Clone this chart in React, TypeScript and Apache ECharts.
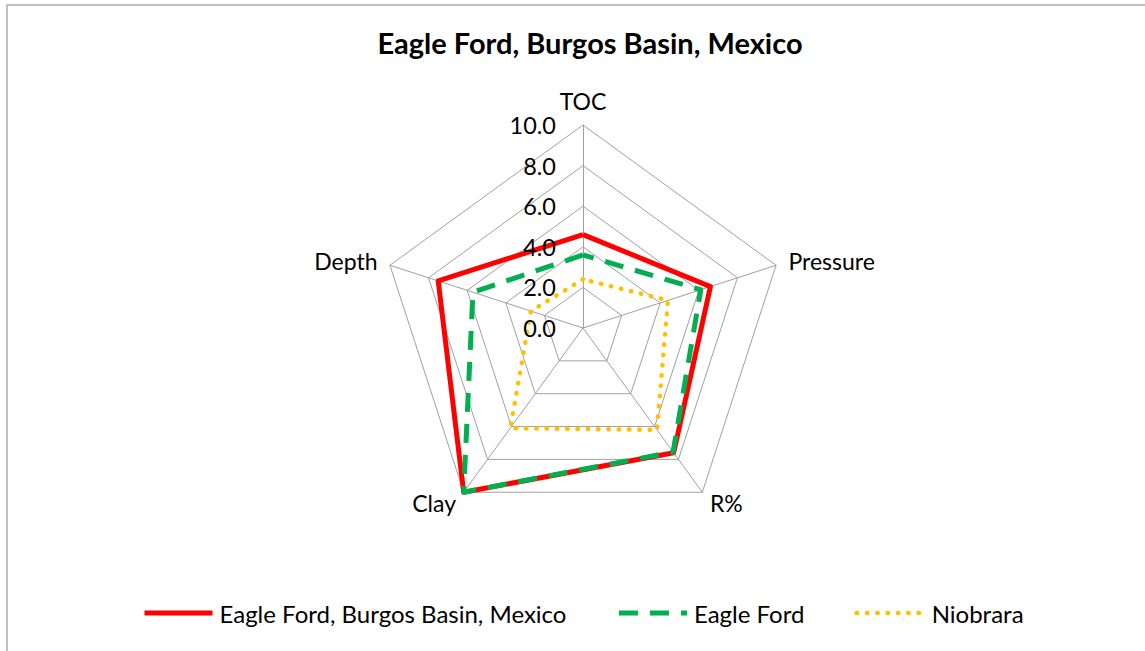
import React, { useEffect, useRef } from "react";
import * as echarts from "echarts";

// Display order (ECharts radar places indicators counter-clockwise from the top)
const indicatorNames = ["TOC", "Depth", "Clay", "R%", "Pressure"];
const burgosValues = [4.6, 7.5, 10.0, 7.6, 6.6];
const eagleFordValues = [3.6, 5.7, 10.0, 7.55, 6.1];
const niobraraValues = [2.4, 2.7, 6.1, 6.2, 4.4];

const seriesNames = ["Eagle Ford, Burgos Basin, Mexico", "Eagle Ford", "Niobrara"];
const axisMin = 0;
const axisMax = 10;
const axisInterval = 2;

const FONT = "Lato";

export default function App() {
  const ref = useRef<HTMLDivElement>(null);

  useEffect(() => {
    if (!ref.current) return;
    const chart = echarts.init(ref.current, null, { renderer: "svg" });

    const styles = [
      { color: "#ff0000", width: 5, type: "solid" as any, cap: "butt" },
      { color: "#00b050", width: 5, type: [19, 12] as any, cap: "butt" },
      { color: "#ffc000", width: 4.5, type: [0.5, 9.8] as any, cap: "round" },
    ];
    const values = [burgosValues, eagleFordValues, niobraraValues];

    const legendSeries = seriesNames.map((name, i) => ({
      type: "line",
      name,
      coordinateSystem: "polar",
      data: [],
      symbol: "none",
      color: styles[i].color,
      lineStyle: { ...styles[i] },
    }));

    const radarSeries = seriesNames.map((name, i) => ({
      type: "radar",
      name,
      symbol: "none",
      color: styles[i].color,
      lineStyle: { ...styles[i] },
      z: 2 + i,
      data: [{ name, value: values[i] }],
    }));

    chart.setOption({
      animation: false,
      backgroundColor: "#ffffff",
      title: {
        text: "Eagle Ford, Burgos Basin, Mexico",
        left: 585,
        textAlign: "center",
        top: 23,
        textStyle: { fontFamily: FONT, fontSize: 29, fontWeight: "bold", color: "#000" },
      },
      legend: {
        data: seriesNames.map((name, i) => ({
          name,
          lineStyle: { width: styles[i].width, type: styles[i].type, cap: styles[i].cap },
        })),
        left: 137,
        top: 596,
        itemWidth: 68,
        itemHeight: 14,
        itemGap: 50,
        itemStyle: { opacity: 0 },
        textStyle: { fontFamily: FONT, fontSize: 24, color: "#000", padding: [0, 0, 0, 2] },
      },
      radar: {
        center: [583, 328],
        radius: 203,
        startAngle: 90,
        splitNumber: 5,
        shape: "polygon",
        indicator: indicatorNames.map((name) => ({ name, min: axisMin, max: axisMax })),
        axisName: { color: "#000", fontFamily: FONT, fontSize: 23 },
        nameGap: 13,
        axisLine: { lineStyle: { color: "#a0a0a0", width: 1 } },
        splitLine: { lineStyle: { color: "#a0a0a0", width: 1 } },
        splitArea: { show: false },
        axisLabel: { show: false },
        axisTick: { show: false },
      },
      polar: { center: [583, 328], radius: 203, z: 10 },
      angleAxis: { show: false, startAngle: 90, min: 0, max: 360 },
      radiusAxis: {
        min: axisMin,
        max: axisMax,
        interval: axisInterval,
        z: 10,
        axisLine: { show: false },
        axisTick: { show: false },
        splitLine: { show: false },
        axisLabel: {
          show: true,
          margin: 27,
          formatter: (v: number) => v.toFixed(1),
          fontFamily: FONT,
          fontSize: 23.5,
          color: "#000",
        },
      },
      series: [...legendSeries, ...radarSeries],
    });

    return () => chart.dispose();
  }, []);

  return (
    <div style={{ position: "fixed", left: 0, top: 0, width: 1145, height: 651, background: "#fff", overflow: "hidden" }}>
      <div ref={ref} style={{ position: "absolute", left: 0, top: 0, width: 1145, height: 651 }} />
      <div
        style={{
          position: "absolute",
          left: 6,
          top: 4,
          width: 1160,
          height: 700,
          borderLeft: "2px solid #c0c0c0",
          borderTop: "2px solid #c0c0c0",
          pointerEvents: "none",
        }}
      />
    </div>
  );
}
